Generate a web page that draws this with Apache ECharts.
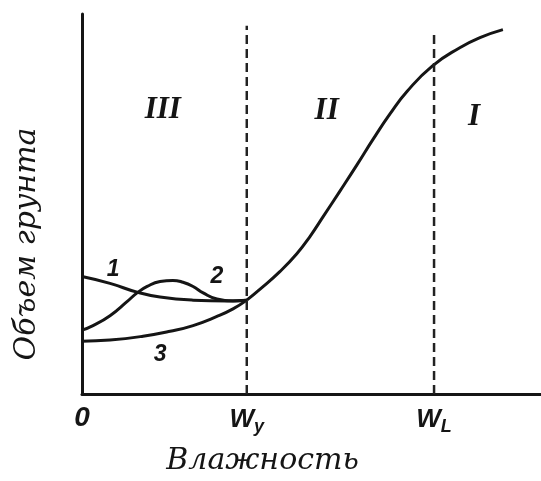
<!DOCTYPE html>
<html>
<head>
<meta charset="utf-8">
<script src="https://cdn.jsdelivr.net/npm/echarts@6/dist/echarts.min.js"></script>
<style>
html,body{margin:0;padding:0;background:#fff;}
#chart{width:541px;height:481px;}
</style>
</head>
<body>
<div id="chart"></div>
<script>
// Main curve (zones II and I)
const mainX = [35.9, 38.8, 43.1, 46.8, 49.7, 52.5, 56.2, 59.9, 63.4, 67.1, 70.8, 76.3, 82.4, 86.7, 91.7];
const mainY = [24.7, 27.6, 32.2, 36.9, 41.5, 46.6, 53.4, 60.3, 67.0, 73.7, 79.6, 86.3, 91.2, 93.8, 95.9];
// Curve 1
const c1X = [0, 6.1, 12.0, 17.0, 24.2, 31.6, 35.9];
const c1Y = [30.9, 29.1, 26.8, 25.5, 24.7, 24.5, 24.7];
// Curve 2
const c2X = [0, 2.4, 6.1, 9.8, 12.0, 14.2, 17.0, 19.8, 22.0, 24.2, 26.4, 29.4, 32.9, 35.9];
const c2Y = [16.8, 18.0, 20.6, 24.3, 26.6, 28.3, 29.6, 29.9, 29.4, 28.3, 26.6, 25.0, 24.5, 24.7];
// Curve 3
const c3X = [0, 6.1, 13.3, 19.2, 24.2, 29.4, 32.9, 35.9];
const c3Y = [13.9, 14.2, 15.2, 16.5, 18.0, 20.4, 22.4, 24.7];
// Boundaries (dashed)
const boundaryX = [35.9, 76.7];
const boundaryTop = [96.9, 95.4];
// X tick labels
const xTickValues = [0, 35.9, 76.7];
const xTickBase = ['0', 'W', 'W'];
const xTickSub = ['', 'y', 'L'];
// Zone labels
const zoneNames = ['III', 'II', 'I'];
const zoneX = [17.6, 53.3, 85.4];
const zoneY = [74.7, 74.5, 72.8];
// Curve number labels
const curveNames = ['1', '2', '3'];
const curveLabX = [6.8, 29.4, 17.0];
const curveLabY = [32.8, 31.0, 10.3];

const xTitle = 'Влажность';
const yTitle = 'Объем грунта';

const zip = (a, b) => a.map((v, i) => [v, b[i]]);
const ink = '#151515';

const lineSeries = (x, y) => ({
  type: 'line', data: zip(x, y), smooth: 0.5, symbol: 'none',
  lineStyle: {color: ink, width: 3}, silent: true
});

const series = [
  lineSeries(mainX, mainY),
  lineSeries(c1X, c1Y),
  lineSeries(c2X, c2Y),
  lineSeries(c3X, c3Y)
];
boundaryX.forEach((bx, i) => {
  series.push({
    type: 'line', data: [[bx, 0], [bx, boundaryTop[i]]], symbol: 'none',
    lineStyle: {color: '#222', width: 2.5, type: [9, 5]}, silent: true
  });
});
series.push({
  type: 'scatter', symbolSize: 1, itemStyle: {color: 'rgba(0,0,0,0)', opacity: 1},
  data: zoneNames.map((n, i) => ({value: [zoneX[i], zoneY[i]], name: n})),
  label: {show: true, position: 'inside', formatter: p => p.name,
    fontFamily: 'Liberation Serif', fontStyle: 'italic', fontWeight: 'bold',
    fontSize: 31, color: ink}
});
series.push({
  type: 'scatter', symbolSize: 1, itemStyle: {color: 'rgba(0,0,0,0)', opacity: 1},
  data: curveNames.map((n, i) => ({value: [curveLabX[i], curveLabY[i]], name: n})),
  label: {show: true, position: 'inside', formatter: p => p.name,
    fontFamily: 'Liberation Sans', fontStyle: 'italic', fontWeight: 'bold',
    fontSize: 23, color: ink}
});

const chart = echarts.init(document.getElementById('chart'), null, {renderer: 'canvas'});
chart.setOption({
  animation: false,
  backgroundColor: '#fff',
  grid: {left: 82, top: 14, right: 0, bottom: 79},
  xAxis: {
    type: 'value', min: 0, max: 100,
    splitLine: {show: false},
    axisLine: {show: true, lineStyle: {color: ink, width: 3}},
    axisTick: {show: false},
    axisLabel: {
      show: true, customValues: xTickValues, margin: 10,
      formatter: v => {
        const i = xTickValues.indexOf(v);
        if (i < 0) return '';
        return xTickSub[i] ? '{w|' + xTickBase[i] + '}{s|' + xTickSub[i] + '}' : '{z|' + xTickBase[i] + '}';
      },
      rich: {
        z: {fontFamily: 'Liberation Sans', fontStyle: 'italic', fontWeight: 'bold', fontSize: 28, color: ink},
        w: {fontFamily: 'Liberation Sans', fontStyle: 'italic', fontWeight: 'bold', fontSize: 26, color: ink},
        s: {fontFamily: 'Liberation Sans', fontStyle: 'italic', fontWeight: 'bold', fontSize: 18, color: ink, padding: [14, 0, 0, 0]}
      }
    },
    name: xTitle, nameLocation: 'middle', nameGap: 52,
    nameTextStyle: {fontFamily: 'DejaVu Serif', fontStyle: 'italic', fontSize: 30, color: ink, padding: [0, 98, 0, 0]}
  },
  yAxis: {
    type: 'value', min: 0, max: 100,
    splitLine: {show: false},
    axisLine: {show: true, lineStyle: {color: ink, width: 3}},
    axisTick: {show: false},
    axisLabel: {show: false},
    name: yTitle, nameLocation: 'middle', nameGap: 40, nameRotate: 90,
    nameTextStyle: {fontFamily: 'DejaVu Serif', fontStyle: 'italic', fontSize: 30, color: ink, padding: [0, 80, 0, 0]}
  },
  series: series
});
</script>
</body>
</html>
